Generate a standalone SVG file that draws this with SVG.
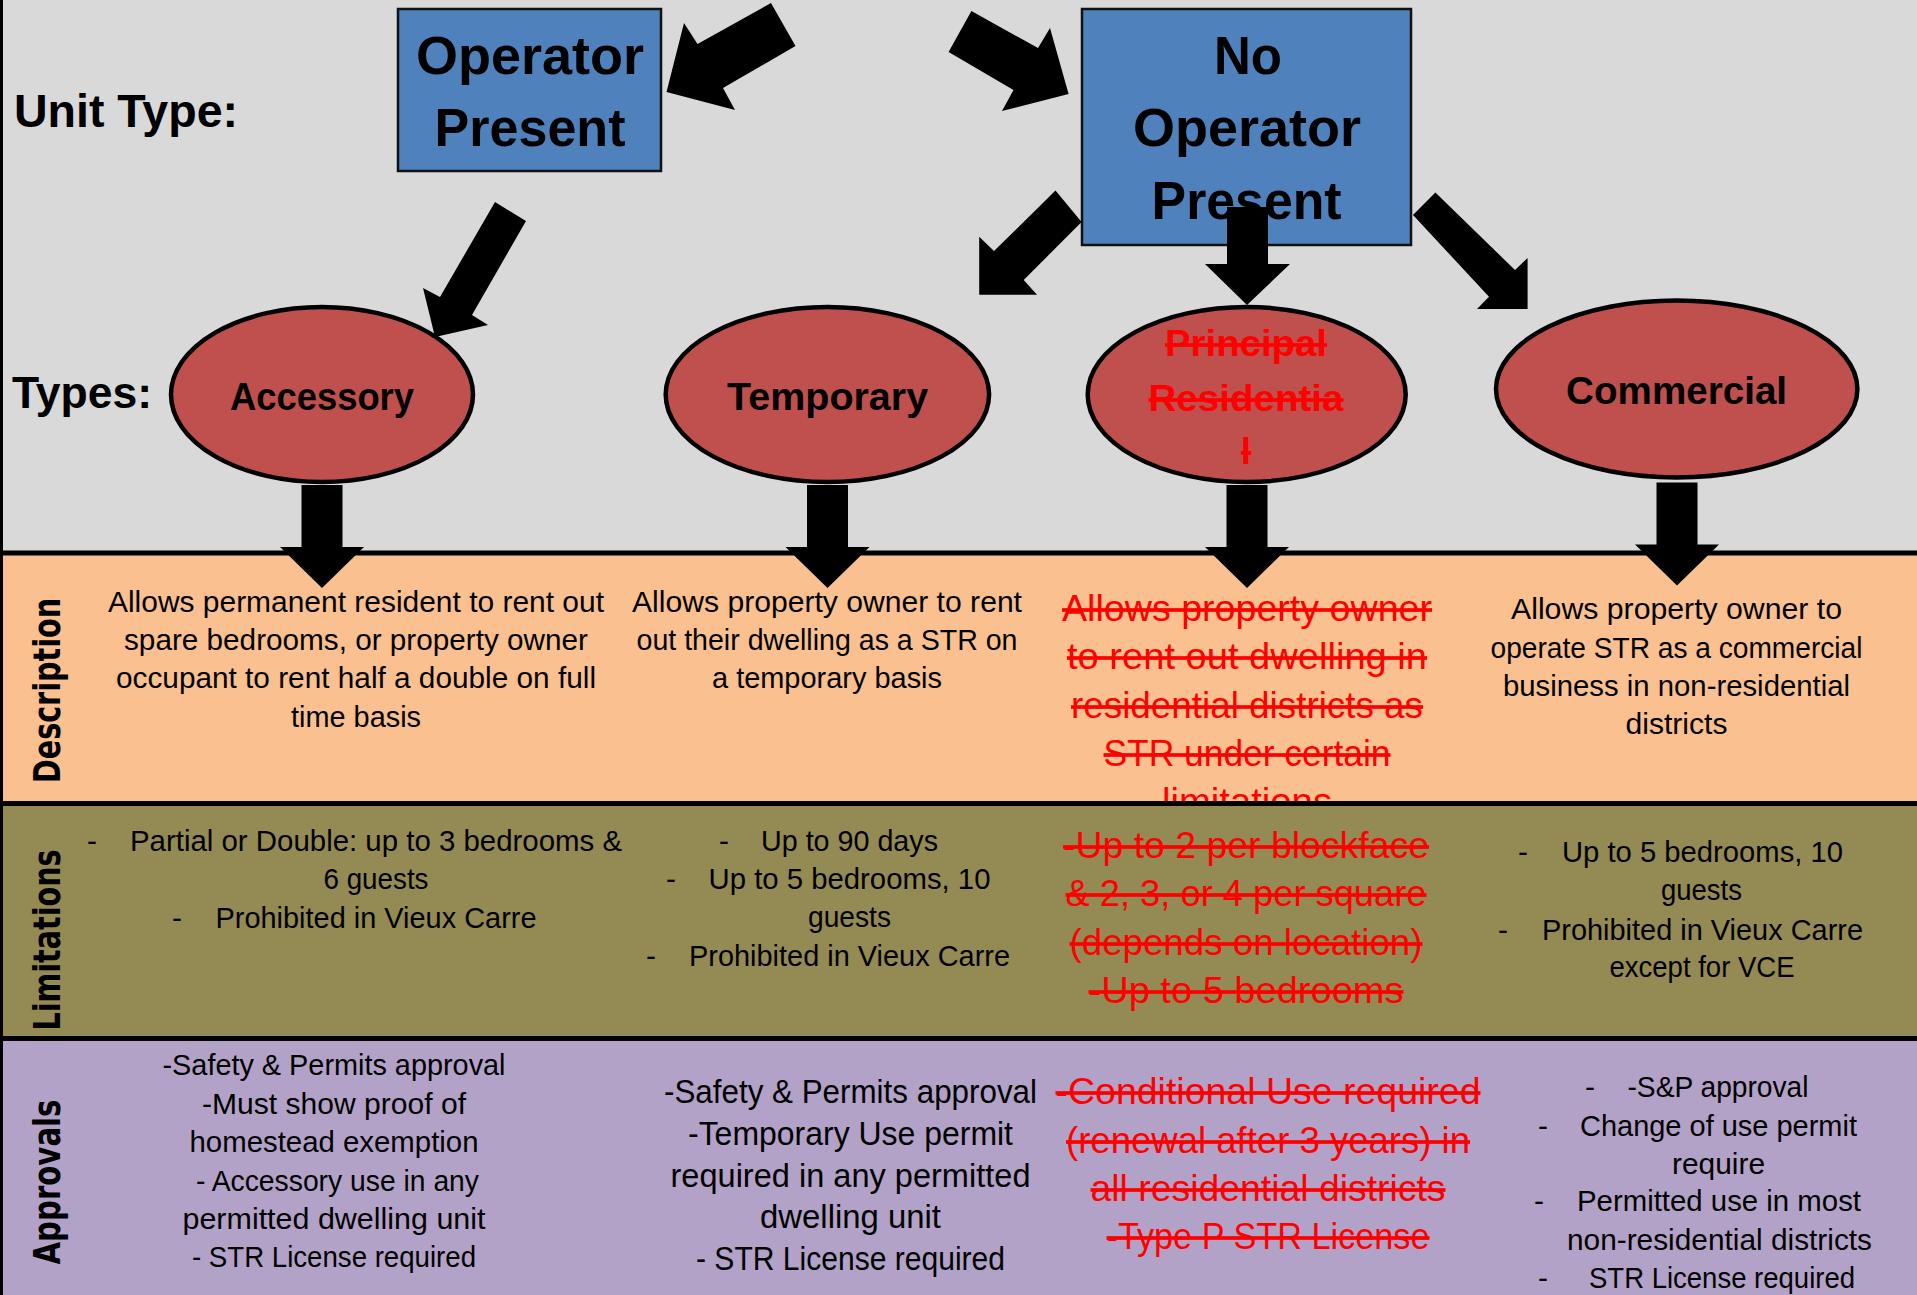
<svg xmlns="http://www.w3.org/2000/svg" width="1917" height="1295" viewBox="0 0 1917 1295">
<style>
.hd{font-family:"Liberation Sans",Arial,sans-serif;font-weight:bold;fill:#000}
.bx{font-family:"Liberation Sans",Arial,sans-serif;font-weight:bold;font-size:54px;fill:#000;text-anchor:middle}
.el{font-family:"Liberation Sans",Arial,sans-serif;font-weight:bold;font-size:38px;fill:#000;text-anchor:middle}
.elr{font-family:"Liberation Sans",Arial,sans-serif;font-weight:bold;font-size:37px;fill:#ff0000;text-anchor:middle;text-decoration:line-through}
.t{font-family:"Liberation Sans",Arial,sans-serif;font-size:30px;fill:#000;text-anchor:middle}
.t2{font-family:"Liberation Sans",Arial,sans-serif;font-size:32.5px;fill:#000;text-anchor:middle}
.d{font-family:"Liberation Sans",Arial,sans-serif;font-size:30px;fill:#000}
.r{font-family:"Liberation Sans",Arial,sans-serif;font-size:37px;fill:#ff0000;text-anchor:middle;text-decoration:line-through}
.side{font-family:"DejaVu Sans",Verdana,sans-serif;font-weight:bold;font-size:38px;fill:#000;text-anchor:middle}
.box{fill:#4f81bd;stroke:#111;stroke-width:2.5}
.ell{fill:#c0504d;stroke:#000;stroke-width:4.5}
.arr{fill:#000}
.sep{fill:#000}
</style>
<defs>
<path id="down" d="M-20.5,0 H20.5 V62 H42 L0,103 L-42,62 H-20.5 Z"/>
</defs>

<!-- backgrounds -->
<rect x="0" y="0" width="1917" height="553" fill="#d9d9d9"/>
<rect x="0" y="553" width="1917" height="250" fill="#fac090"/>

<!-- description texts -->
<g id="desc-accessory">
<text class="t" x="356" y="612" textLength="496" lengthAdjust="spacingAndGlyphs">Allows permanent resident to rent out</text>
<text class="t" x="356" y="650" textLength="464" lengthAdjust="spacingAndGlyphs">spare bedrooms, or property owner</text>
<text class="t" x="356" y="688" textLength="480" lengthAdjust="spacingAndGlyphs">occupant to rent half a double on full</text>
<text class="t" x="356" y="727" textLength="130" lengthAdjust="spacingAndGlyphs">time basis</text>
</g>
<g id="desc-temporary">
<text class="t" x="827" y="612" textLength="390" lengthAdjust="spacingAndGlyphs">Allows property owner to rent</text>
<text class="t" x="827" y="650" textLength="381" lengthAdjust="spacingAndGlyphs">out their dwelling as a STR on</text>
<text class="t" x="827" y="688" textLength="230" lengthAdjust="spacingAndGlyphs">a temporary basis</text>
</g>
<g id="desc-principal">
<text class="r" x="1247" y="621" textLength="370" lengthAdjust="spacingAndGlyphs">Allows property owner</text>
<text class="r" x="1247" y="669" textLength="360" lengthAdjust="spacingAndGlyphs">to rent out dwelling in</text>
<text class="r" x="1247" y="718" textLength="352" lengthAdjust="spacingAndGlyphs">residential districts as</text>
<text class="r" x="1247" y="766" textLength="287" lengthAdjust="spacingAndGlyphs">STR under certain</text>
<text class="r" x="1247" y="814" textLength="170" lengthAdjust="spacingAndGlyphs">limitations</text>
</g>
<g id="desc-commercial">
<text class="t" x="1676.5" y="619" textLength="331" lengthAdjust="spacingAndGlyphs">Allows property owner to</text>
<text class="t" x="1676.5" y="658" textLength="372" lengthAdjust="spacingAndGlyphs">operate STR as a commercial</text>
<text class="t" x="1676.5" y="696" textLength="347" lengthAdjust="spacingAndGlyphs">business in non-residential</text>
<text class="t" x="1676.5" y="734" textLength="102" lengthAdjust="spacingAndGlyphs">districts</text>
</g>

<rect x="0" y="803" width="1917" height="235" fill="#948a54"/>
<g id="lim-accessory">
<text class="d" x="87" y="851">-</text>
<text class="t" x="376" y="851" textLength="492" lengthAdjust="spacingAndGlyphs">Partial or Double: up to 3 bedrooms &amp;</text>
<text class="t" x="376" y="889" textLength="105" lengthAdjust="spacingAndGlyphs">6 guests</text>
<text class="d" x="172" y="928">-</text>
<text class="t" x="376" y="928" textLength="321" lengthAdjust="spacingAndGlyphs">Prohibited in Vieux Carre</text>
</g>
<g id="lim-temporary">
<text class="d" x="719" y="851">-</text>
<text class="t" x="849.5" y="851" textLength="177" lengthAdjust="spacingAndGlyphs">Up to 90 days</text>
<text class="d" x="666" y="889">-</text>
<text class="t" x="849.5" y="889" textLength="282" lengthAdjust="spacingAndGlyphs">Up to 5 bedrooms, 10</text>
<text class="t" x="849.5" y="927" textLength="83" lengthAdjust="spacingAndGlyphs">guests</text>
<text class="d" x="646" y="966">-</text>
<text class="t" x="849.5" y="966" textLength="321" lengthAdjust="spacingAndGlyphs">Prohibited in Vieux Carre</text>
</g>
<g id="lim-principal">
<text class="r" x="1246" y="858" textLength="366" lengthAdjust="spacingAndGlyphs">-Up to 2 per blockface</text>
<text class="r" x="1246" y="906" textLength="361" lengthAdjust="spacingAndGlyphs">&amp; 2, 3, or 4 per square</text>
<text class="r" x="1246" y="955" textLength="353" lengthAdjust="spacingAndGlyphs">(depends on location)</text>
<text class="r" x="1246" y="1003" textLength="315" lengthAdjust="spacingAndGlyphs">-Up to 5 bedrooms</text>
</g>
<g id="lim-commercial">
<text class="d" x="1518" y="862">-</text>
<text class="t" x="1702.5" y="862" textLength="281" lengthAdjust="spacingAndGlyphs">Up to 5 bedrooms, 10</text>
<text class="t" x="1701.5" y="900" textLength="81" lengthAdjust="spacingAndGlyphs">guests</text>
<text class="d" x="1498" y="940">-</text>
<text class="t" x="1702.5" y="940" textLength="321" lengthAdjust="spacingAndGlyphs">Prohibited in Vieux Carre</text>
<text class="t" x="1702" y="977" textLength="185" lengthAdjust="spacingAndGlyphs">except for VCE</text>
</g>

<rect x="0" y="1038" width="1917" height="257" fill="#b3a2c7"/>
<g id="appr-accessory">
<text class="t" x="334" y="1075" textLength="343" lengthAdjust="spacingAndGlyphs">-Safety &amp; Permits approval</text>
<text class="t" x="334" y="1114" textLength="264" lengthAdjust="spacingAndGlyphs">-Must show proof of</text>
<text class="t" x="334" y="1152" textLength="289" lengthAdjust="spacingAndGlyphs">homestead exemption</text>
<text class="t" x="337.5" y="1190.5" textLength="283" lengthAdjust="spacingAndGlyphs">- Accessory use in any</text>
<text class="t" x="334" y="1229" textLength="303" lengthAdjust="spacingAndGlyphs">permitted dwelling unit</text>
<text class="t" x="334" y="1267" textLength="284" lengthAdjust="spacingAndGlyphs">- STR License required</text>
</g>
<g id="appr-temporary">
<text class="t2" x="850.5" y="1103" textLength="373" lengthAdjust="spacingAndGlyphs">-Safety &amp; Permits approval</text>
<text class="t2" x="850.5" y="1145" textLength="325" lengthAdjust="spacingAndGlyphs">-Temporary Use permit</text>
<text class="t2" x="850.5" y="1187" textLength="360" lengthAdjust="spacingAndGlyphs">required in any permitted</text>
<text class="t2" x="850.5" y="1228" textLength="181" lengthAdjust="spacingAndGlyphs">dwelling unit</text>
<text class="t2" x="850.5" y="1270" textLength="309" lengthAdjust="spacingAndGlyphs">- STR License required</text>
</g>
<g id="appr-principal">
<text class="r" x="1268" y="1104" textLength="425" lengthAdjust="spacingAndGlyphs">-Conditional Use required</text>
<text class="r" x="1268" y="1153" textLength="404" lengthAdjust="spacingAndGlyphs">(renewal after 3 years) in</text>
<text class="r" x="1268" y="1201" textLength="355" lengthAdjust="spacingAndGlyphs">all residential districts</text>
<text class="r" x="1268" y="1249" textLength="323" lengthAdjust="spacingAndGlyphs">-Type P STR License</text>
</g>
<g id="appr-commercial">
<text class="d" x="1585" y="1097">-</text>
<text class="t" x="1718" y="1097" textLength="181" lengthAdjust="spacingAndGlyphs">-S&amp;P approval</text>
<text class="d" x="1538" y="1136">-</text>
<text class="t" x="1718.5" y="1136" textLength="277" lengthAdjust="spacingAndGlyphs">Change of use permit</text>
<text class="t" x="1718.5" y="1174" textLength="93" lengthAdjust="spacingAndGlyphs">require</text>
<text class="d" x="1534" y="1211">-</text>
<text class="t" x="1719" y="1211" textLength="284" lengthAdjust="spacingAndGlyphs">Permitted use in most</text>
<text class="t" x="1719.5" y="1250" textLength="305" lengthAdjust="spacingAndGlyphs">non-residential districts</text>
<text class="d" x="1538" y="1288">-</text>
<text class="t" x="1722" y="1288" textLength="266" lengthAdjust="spacingAndGlyphs">STR License required</text>
</g>

<!-- separators and border -->
<rect class="sep" x="0" y="550.5" width="1917" height="5"/>
<rect class="sep" x="0" y="801" width="1917" height="5"/>
<rect class="sep" x="0" y="1036" width="1917" height="5"/>
<rect class="sep" x="0" y="0" width="3" height="1295"/>

<!-- row labels -->
<g id="row-labels">
<text class="hd" x="14" y="127" font-size="46" textLength="224" lengthAdjust="spacingAndGlyphs">Unit Type:</text>
<text class="hd" x="12" y="408" font-size="45" textLength="140" lengthAdjust="spacingAndGlyphs">Types:</text>
<text class="side" transform="translate(60,690.5) rotate(-90)" textLength="185" lengthAdjust="spacingAndGlyphs">Description</text>
<text class="side" transform="translate(60,940) rotate(-90)" textLength="181" lengthAdjust="spacingAndGlyphs">Limitations</text>
<text class="side" transform="translate(60,1182) rotate(-90)" textLength="165" lengthAdjust="spacingAndGlyphs">Approvals</text>
</g>

<!-- nodes -->
<g id="operator-present">
<rect class="box" x="398" y="9" width="263" height="162"/>
<text class="bx" x="530" y="73.5" textLength="228" lengthAdjust="spacingAndGlyphs">Operator</text>
<text class="bx" x="530" y="146" textLength="191" lengthAdjust="spacingAndGlyphs">Present</text>
</g>
<g id="no-operator-present">
<rect class="box" x="1082" y="9" width="329" height="236"/>
<text class="bx" x="1248" y="73.5" textLength="68" lengthAdjust="spacingAndGlyphs">No</text>
<text class="bx" x="1247" y="146" textLength="228" lengthAdjust="spacingAndGlyphs">Operator</text>
<text class="bx" x="1246.6" y="218.5" textLength="190" lengthAdjust="spacingAndGlyphs">Present</text>
</g>
<g id="accessory">
<ellipse class="ell" cx="322" cy="394.5" rx="151" ry="87.5"/>
<text class="el" x="322" y="410" textLength="184" lengthAdjust="spacingAndGlyphs">Accessory</text>
</g>
<g id="temporary">
<ellipse class="ell" cx="827.4" cy="394.5" rx="161.7" ry="87.5"/>
<text class="el" x="827.6" y="410" textLength="201" lengthAdjust="spacingAndGlyphs">Temporary</text>
</g>
<g id="principal-residential">
<ellipse class="ell" cx="1246.7" cy="394.5" rx="159" ry="87.5"/>
<text class="elr" x="1246" y="356" textLength="162" lengthAdjust="spacingAndGlyphs">Principal</text>
<text class="elr" x="1246" y="411" textLength="195" lengthAdjust="spacingAndGlyphs">Residentia</text>
<text class="elr" x="1246" y="464">l</text>
</g>
<g id="commercial">
<ellipse class="ell" cx="1676.7" cy="389" rx="180.7" ry="88.4"/>
<text class="el" x="1676.6" y="404" textLength="221" lengthAdjust="spacingAndGlyphs">Commercial</text>
</g>

<!-- connectors -->
<g id="connectors" class="arr">
<polygon points="771,3 795.5,46 723,88 735,110 666.5,92 684,23 697.5,44"/>
<polygon points="971.4,11 1038,48 1050,28 1068.6,94 1002,111 1013.5,90 948.6,52"/>
<polygon points="495,202 526,221 472,315 488,325 435,337 423,288 440,297"/>
<polygon points="1055.5,190.6 1081.6,222 1023.7,280 1037,294.7 979.2,294.7 979.2,236.7 994,251"/>
<polygon points="1227,207 1268,207 1268,264 1290,264 1247,305 1205,264 1227,264"/>
<polygon points="1435.4,192.6 1515,270 1527.6,258 1527.6,309 1477,309 1489,296.7 1413,215"/>
<use href="#down" x="322" y="485"/>
<use href="#down" x="827.5" y="485"/>
<use href="#down" x="1247" y="485"/>
<use href="#down" x="1677" y="482.5"/>
</g>
</svg>
